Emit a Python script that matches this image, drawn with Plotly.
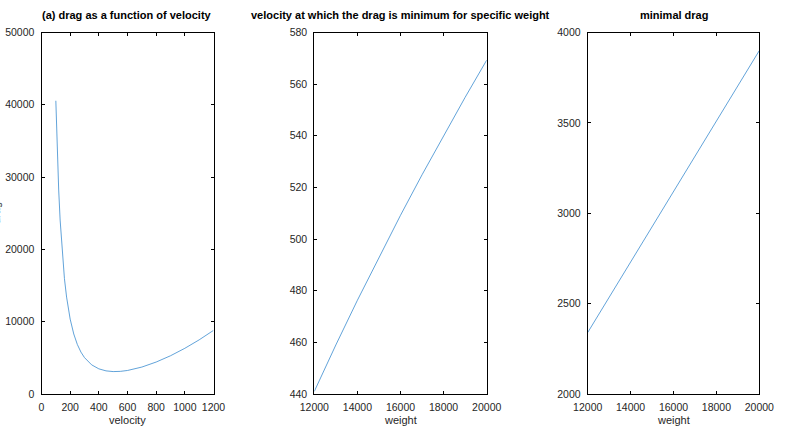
import plotly.graph_objects as go
from plotly.subplots import make_subplots

# (a) drag as a function of velocity
velocity = [100, 110, 120, 130, 140, 150, 160, 175, 200, 225, 250, 275, 300, 350, 400,
            450, 500, 550, 600, 700, 800, 900, 1000, 1100, 1200]
drag = [40560, 33540, 28210, 24060, 20780, 18130, 15970, 13400, 10360, 8300, 6850, 5800,
        5030, 4030, 3480, 3200, 3100, 3130, 3255, 3725, 4420, 5290, 6320, 7490, 8800]

# velocity at which the drag is minimum / minimal drag, vs weight
weight = [12000, 13000, 14000, 15000, 16000, 17000, 18000, 19000, 20000]
v_min = [441.0, 459.0, 476.3, 493.0, 509.2, 524.9, 540.1, 554.9, 569.3]
d_min = [2340, 2535, 2730, 2925, 3120, 3315, 3510, 3705, 3900]

titles = ["(a) drag as a function of velocity",
          "velocity at which the drag is minimum for specific weight",
          "minimal drag"]
xlabels = ["velocity", "weight", "weight"]

W, H = 812, 436
LINE = "#3a8ccf"
TXT = "#262626"
FONT = "Liberation Sans, Arial, sans-serif"

fig = make_subplots(rows=1, cols=3)
fig.add_trace(go.Scatter(x=velocity, y=drag, mode="lines",
                         line=dict(color=LINE, width=0.8)), row=1, col=1)
fig.add_trace(go.Scatter(x=weight, y=v_min, mode="lines",
                         line=dict(color=LINE, width=0.8)), row=1, col=2)
fig.add_trace(go.Scatter(x=weight, y=d_min, mode="lines",
                         line=dict(color=LINE, width=0.8)), row=1, col=3)

xpix = [(41.5, 213.5), (314.3, 486.7), (587.7, 759.3)]
ytop, ybot = 32.5, 394.0
ydom = [(H - ybot) / H, (H - ytop) / H]

xranges = [[0, 1200], [12000, 20000], [12000, 20000]]
xdticks = [200, 2000, 2000]
yranges = [[0, 50000], [440, 580], [2000, 4000]]
ydticks = [10000, 20, 500]

common = dict(showline=True, linecolor="black", linewidth=1, mirror="ticks",
              ticks="inside", ticklen=3, tickcolor="black", showgrid=False,
              zeroline=False, tickfont=dict(family=FONT, size=10.5, color=TXT),
              automargin=False, tickformat="d", exponentformat="none")

annotations = []
for i in range(3):
    xa = "xaxis" if i == 0 else f"xaxis{i+1}"
    ya = "yaxis" if i == 0 else f"yaxis{i+1}"
    fig.update_layout({
        xa: dict(domain=[xpix[i][0] / W, xpix[i][1] / W], range=xranges[i],
                 dtick=xdticks[i], tick0=xranges[i][0], ticklabelstandoff=3, **common),
        ya: dict(domain=ydom, range=yranges[i], dtick=ydticks[i],
                 tick0=yranges[i][0], ticklabelstandoff=4, **common),
    })
    cx = (xpix[i][0] + xpix[i][1]) / 2 / W
    annotations.append(dict(text=f"<b>{titles[i]}</b>", x=cx, y=(H - 15) / H,
                            xref="paper", yref="paper", showarrow=False,
                            xanchor="center", yanchor="middle",
                            font=dict(family=FONT, size=11, color="black")))
    annotations.append(dict(text=xlabels[i], x=cx, y=(H - 420) / H,
                            xref="paper", yref="paper", showarrow=False,
                            xanchor="center", yanchor="middle",
                            font=dict(family=FONT, size=11, color=TXT)))

# y label of the first panel, mostly cut off at the left edge as in the reference
annotations.append(dict(text="drag", x=3.5 / W, y=(H - 213.5) / H, xref="paper",
                        yref="paper", showarrow=False, textangle=-90,
                        xanchor="right", yanchor="middle",
                        font=dict(family=FONT, size=11, color=TXT)))

fig.update_layout(width=W, height=H, margin=dict(l=0, r=0, t=0, b=0),
                  paper_bgcolor="white", plot_bgcolor="white", showlegend=False,
                  annotations=annotations)

fig.write_html("out.html")
